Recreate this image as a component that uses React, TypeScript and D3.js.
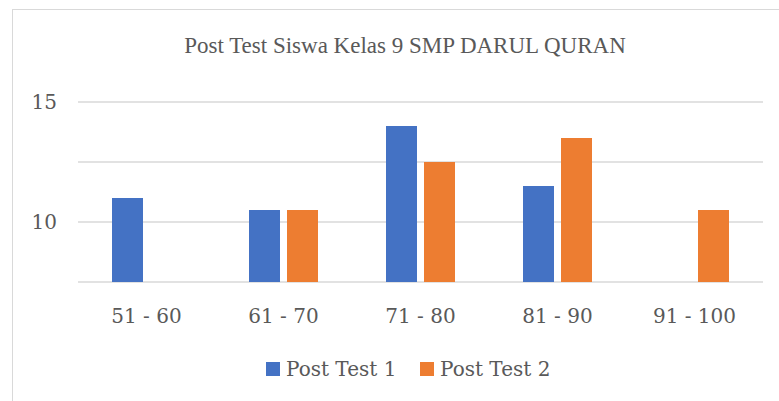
import React, { useEffect, useRef } from 'react';
import * as d3 from 'd3';

const title = 'Post Test Siswa Kelas 9 SMP DARUL QURAN';
const categories = ['51 - 60', '61 - 70', '71 - 80', '81 - 90', '91 - 100'];
const seriesNames = ['Post Test 1', 'Post Test 2'];
// null = value under the axis minimum, not shown in the original
const postTest1: (number | null)[] = [11, 10.5, 14, 11.5, null];
const postTest2: (number | null)[] = [null, 10.5, 12.5, 13.5, 10.5];
const gridTicks = [7.5, 10, 12.5, 15];
const labelTicks = [10, 15];

const colors = ['#4472c4', '#ed7d31'];
const textColor = '#595959';
const titleFont = "'Liberation Serif', serif";
const font = "'DejaVu Serif', serif";

export default function App() {
  const ref = useRef<SVGSVGElement>(null);

  useEffect(() => {
    const svg = d3.select(ref.current);
    svg.selectAll('*').remove();

    const width = 779;
    const height = 401;
    const plot = { left: 78, right: 763, top: 102, bottom: 282 };

    // chart frame
    svg.append('rect')
      .attr('x', 12.5).attr('y', 9.5)
      .attr('width', 800).attr('height', 500)
      .attr('fill', '#fff')
      .attr('stroke', '#d9d9d9');

    svg.append('text')
      .attr('x', 405).attr('y', 45)
      .attr('dy', '0.35em')
      .attr('text-anchor', 'middle')
      .attr('font-family', titleFont)
      .attr('font-size', 23)
      .attr('fill', textColor)
      .text(title);

    const x = d3.scaleBand().domain(categories).range([plot.left, plot.right]);
    const y = d3.scaleLinear().domain([7.5, 15]).range([plot.bottom, plot.top]);

    svg.append('g').selectAll('line')
      .data(gridTicks)
      .enter().append('line')
      .attr('x1', plot.left).attr('x2', plot.right)
      .attr('y1', d => y(d)).attr('y2', d => y(d))
      .attr('stroke', '#d9d9d9')
      .attr('stroke-width', 1.5);

    svg.append('g').selectAll('text')
      .data(labelTicks)
      .enter().append('text')
      .attr('x', 57).attr('y', d => y(d))
      .attr('dy', '0.35em')
      .attr('text-anchor', 'end')
      .attr('font-family', font)
      .attr('font-size', 20)
      .attr('fill', textColor)
      .text(d => d);

    const barW = 31;
    const gap = 7;
    const series = [postTest1, postTest2];
    series.forEach((vals, si) => {
      svg.append('g').selectAll('rect')
        .data(vals.map((v, i) => ({ v, c: categories[i] })).filter(d => d.v !== null))
        .enter().append('rect')
        .attr('x', d => (x(d.c) as number) + x.bandwidth() / 2 - (barW + gap / 2) + si * (barW + gap))
        .attr('y', d => y(d.v as number))
        .attr('width', barW)
        .attr('height', d => plot.bottom - y(d.v as number))
        .attr('fill', colors[si]);
    });

    svg.append('g').selectAll('text')
      .data(categories)
      .enter().append('text')
      .attr('x', d => (x(d) as number) + x.bandwidth() / 2)
      .attr('y', 316)
      .attr('dy', '0.35em')
      .attr('text-anchor', 'middle')
      .attr('font-family', font)
      .attr('font-size', 20)
      .attr('fill', textColor)
      .text(d => d);

    // legend
    const legendX = [266, 420];
    seriesNames.forEach((name, i) => {
      svg.append('rect')
        .attr('x', legendX[i]).attr('y', 362)
        .attr('width', 14).attr('height', 14)
        .attr('fill', colors[i]);
      svg.append('text')
        .attr('x', legendX[i] + 20).attr('y', 369)
        .attr('dy', '0.35em')
        .attr('font-family', font)
        .attr('font-size', 20)
        .attr('fill', textColor)
        .text(name);
    });

    svg.attr('width', width).attr('height', height);
  }, []);

  return (
    <svg ref={ref} width={779} height={401}
      style={{ position: 'absolute', left: 0, top: 0, background: '#fff' }} />
  );
}
